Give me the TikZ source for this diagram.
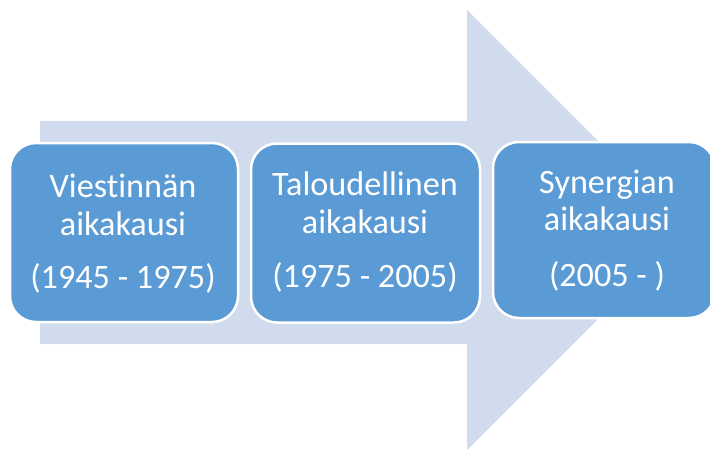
\documentclass[tikz,border=0pt]{standalone}
\usepackage{fontspec}
\setmainfont{Carlito}[Ligatures={NoCommon}]
\definecolor{arrowfill}{HTML}{D0DCEE}
\definecolor{boxfill}{HTML}{5B9BD5}
\begin{document}
\begin{tikzpicture}[x=1pt,y=-1pt,
  box/.style={draw=white, line width=2.5pt, fill=boxfill, rounded corners=26pt, inner sep=0pt},
  lbl/.style={text=white, font=\fontsize{34.2}{40}\selectfont, anchor=base, inner sep=0pt}]
\useasboundingbox (0,0) rectangle (710,450);
\clip (0,0) rectangle (710,450);
\fill[arrowfill] (40,121) -- (467,121) -- (467,10) -- (687,230) -- (467,450) -- (467,344) -- (40,344) -- cycle;
\node[box, minimum width=228pt, minimum height=179pt] (b1) at (124,232.5) {};
\node[box, minimum width=229pt, minimum height=179pt] (b2) at (365.5,233) {};
\node[box, minimum width=222pt, minimum height=176pt] (b3) at (604,230) {};
\node[lbl] (t1a) at (123,197) {Viestinnän};
\node[lbl] (t1b) at (123,235) {aikakausi};
\node[lbl] (t1c) at (123,288) {(1945 - 1975)};
\node[lbl] (t2a) at (365,195) {Taloudellinen};
\node[lbl] (t2b) at (365,233) {aikakausi};
\node[lbl] (t2c) at (365,287) {(1975 - 2005)};
\node[lbl] (t3a) at (607,193) {Synergian};
\node[lbl] (t3b) at (607,230) {aikakausi};
\node[lbl] (t3c) at (607,286) {(2005 - )};
\end{tikzpicture}
\end{document}
